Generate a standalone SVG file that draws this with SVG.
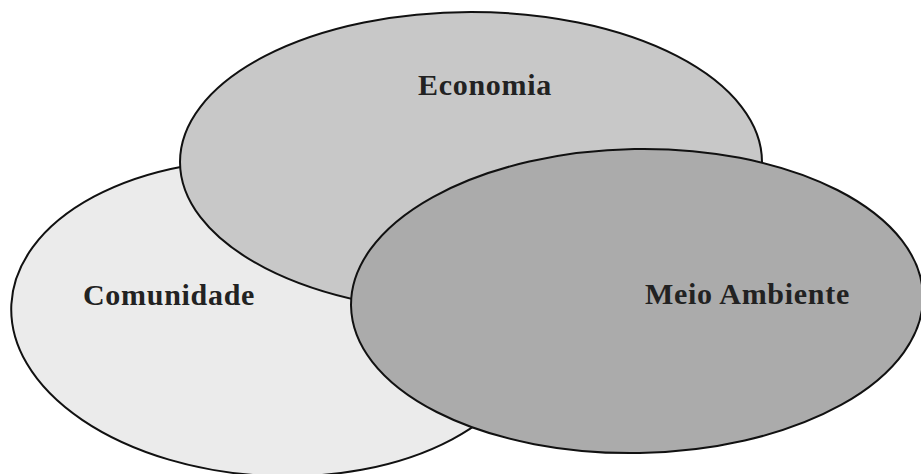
<svg xmlns="http://www.w3.org/2000/svg" width="921" height="474" viewBox="0 0 921 474">
  <style>
    .oval { stroke: #111111; stroke-width: 2; }
    .label { font-family: "Liberation Serif", "Times New Roman", serif; font-weight: bold; font-size: 30px; fill: #222222; letter-spacing: 0.7px; }
  </style>
  <rect width="921" height="474" fill="#ffffff"/>
  <g id="comunidade">
    <ellipse class="oval" cx="273" cy="318" rx="262" ry="158" transform="rotate(3 273 318)" fill="#ebebeb"/>
    <text class="label" x="83" y="305">Comunidade</text>
  </g>
  <g id="economia">
    <ellipse class="oval" cx="471" cy="162" rx="291" ry="150" fill="#c8c8c8"/>
    <text class="label" x="418" y="95">Economia</text>
  </g>
  <g id="meio-ambiente">
    <ellipse class="oval" cx="637" cy="301" rx="286" ry="152" transform="rotate(-1 637 301)" fill="#ababab"/>
    <text class="label" x="645" y="304">Meio Ambiente</text>
  </g>
  <g id="connectors"/>
</svg>
